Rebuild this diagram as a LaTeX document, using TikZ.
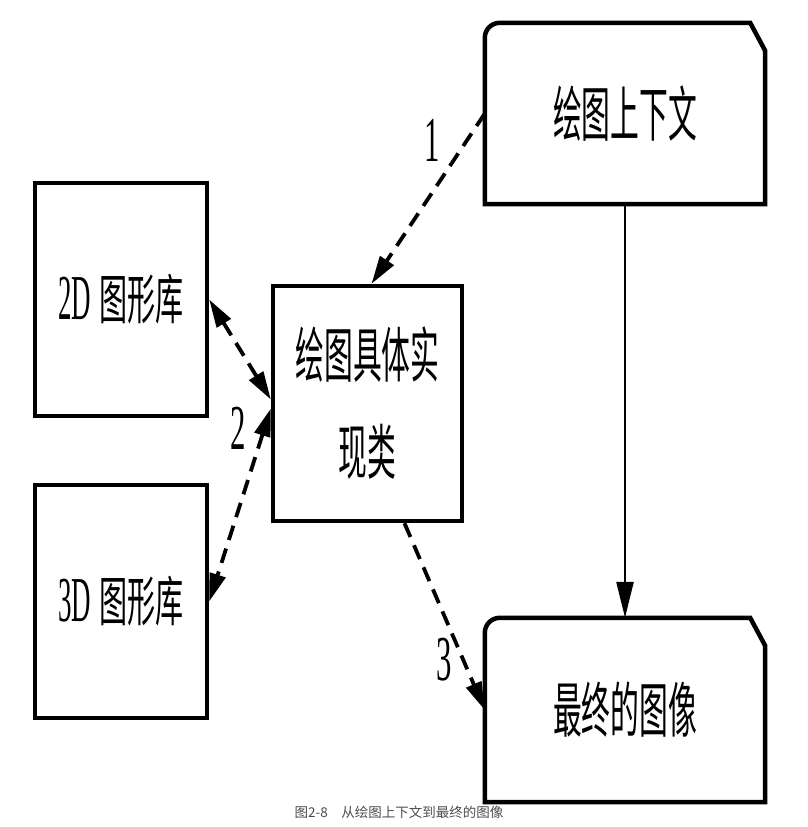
\documentclass[tikz,border=0pt]{standalone}
\usepackage{fontspec}
\setmainfont{Liberation Serif}
\newfontfamily\cjk{Noto Sans CJK SC}
\usetikzlibrary{arrows.meta}

% condensed CJK text: horizontal factor, font size, text
\newcommand\cnline[3]{\scalebox{#1}[1]{\cjk\fontsize{#2}{#2}\selectfont #3}}
% condensed serif figures
\newcommand\numtext[2]{\scalebox{#1}[1]{\fontsize{64}{64}\selectfont #2}}
% outline with a rounded top-left corner and a cut top-right corner
\newcommand\tabline[1]{%
  \draw[boxline] (#1.south west) -- ([yshift=-15pt]#1.north west)
    arc[start angle=180,end angle=90,radius=15pt]
    -- ([xshift=-15pt]#1.north east) -- ([yshift=-28pt]#1.north east)
    -- (#1.south east) -- cycle;}

\begin{document}
\begin{tikzpicture}[x=1pt,y=-1pt,
  boxline/.style={line width=4.5pt, line join=miter},
  plainbox/.style={rectangle, draw, boxline, inner sep=0pt, outer sep=2.2pt},
  tabbox/.style={rectangle, inner sep=0pt, outer sep=2.2pt, minimum width=276pt},
  dashlink/.style={line width=3.8pt, dash pattern=on 15pt off 9pt,
    >={Triangle[length=28pt,width=16pt]}, ->},
  flow/.style={line width=2.5pt, >={Triangle[length=36pt,width=17pt]}, ->},
  numlabel/.style={inner sep=0pt}]
\useasboundingbox (0,0) rectangle (807,827);

% boxes
\node[tabbox, minimum height=177pt] (ctx) at (625,113.5)
  {\cnline{0.48}{60}{绘图上下文}};
\tabline{ctx}
\node[tabbox, minimum height=180pt] (final) at (625,710)
  {\cnline{0.48}{60}{最终的图像}};
\tabline{final}
\node[plainbox, minimum width=172pt, minimum height=233pt] (lib2d) at (121,299.5)
  {\numtext{0.42}{2D}\hspace{8pt}\cnline{0.52}{54}{图形库}};
\node[plainbox, minimum width=172pt, minimum height=233pt] (lib3d) at (121,601.5)
  {\numtext{0.42}{3D}\hspace{8pt}\cnline{0.52}{54}{图形库}};
\node[plainbox, minimum width=189pt, minimum height=235pt, align=center,
  font=\fontsize{60}{97}\selectfont] (impl) at (367.5,403.5)
  {\cnline{0.48}{60}{绘图具体实}\\\cnline{0.48}{60}{现类}};

% connectors
\draw[dashlink] (ctx.west) -- ([xshift=4pt]impl.north);
\draw[dashlink, <->] (lib2d.east) -- ([yshift=4pt]impl.west);
\draw[dashlink, <->] ([yshift=-5pt]impl.west) -- (lib3d.east);
\draw[dashlink] ([xshift=37pt]impl.south) -- (final.west);
\draw[flow] (ctx.south) -- (final.north);

% step numbers
\node[numlabel] (n1) at (432,140) {\numtext{0.48}{1}};
\node[numlabel] (n2) at (238,428) {\numtext{0.48}{2}};
\node[numlabel] (n3) at (444,660) {\numtext{0.48}{3}};

% caption
\node (cap) at (399,812)
  {\cjk\fontsize{13.5}{14}\selectfont\color{black!70}图2-8\hspace{1em}从绘图上下文到最终的图像};
\end{tikzpicture}
\end{document}
